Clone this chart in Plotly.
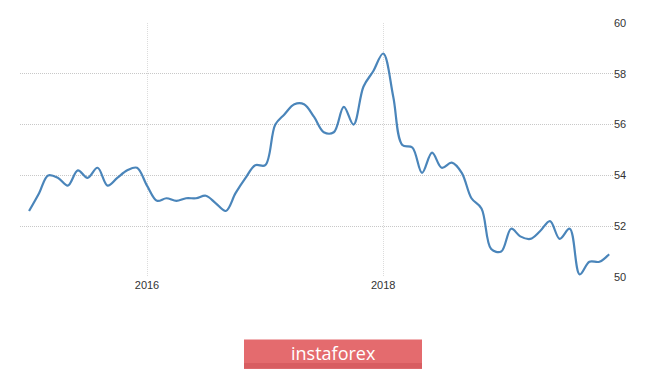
import plotly.graph_objects as go
import pandas as pd

months = pd.date_range("2015-01-01", periods=60, freq="MS")
pmi_2015 = [52.6, 53.3, 54.0, 53.9, 53.6, 54.2, 53.9, 54.3, 53.6, 53.9, 54.2, 54.3]
pmi_2016 = [53.6, 53.0, 53.1, 53.0, 53.1, 53.1, 53.2, 52.9, 52.6, 53.3, 53.9, 54.4]
pmi_2017 = [54.4, 56.0, 56.4, 56.8, 56.8, 56.3, 55.7, 55.7, 56.7, 56.0, 57.5, 58.1]
pmi_2018 = [58.8, 57.1, 55.2, 55.1, 54.1, 54.9, 54.3, 54.5, 54.1, 53.1, 52.7, 51.1]
pmi_2019 = [51.0, 51.9, 51.6, 51.5, 51.8, 52.2, 51.5, 51.9, 50.1, 50.6, 50.6, 50.9]
values = pmi_2015 + pmi_2016 + pmi_2017 + pmi_2018 + pmi_2019

x_ticks = ["2016-01-01", "2018-01-01"]
x_tick_labels = ["2016", "2018"]
y_ticks = [50, 52, 54, 56, 58, 60]
watermark = "instaforex"

# page offset caused by default body margin
OFF = 8
W, H = 665 - OFF, 372 - OFF
PL, PR, PT, PB = 20, 613, 17, 277  # plot area in page pixels
L, T = PL - OFF, PT - OFF
R = W - (PR - OFF)
B = H - (PB - OFF)
pw, ph = PR - PL, PB - PT

def px_x(p):
    return (p - PL) / pw

def px_y(p):
    return (PB - p) / ph

fig = go.Figure()
fig.add_trace(go.Scatter(
    x=months, y=values, mode="lines",
    line=dict(color="#4a85ba", width=2.2, shape="spline", smoothing=1.0),
    hoverinfo="x+y", showlegend=False,
))

fig.update_layout(
    width=W, height=H,
    margin=dict(l=L, r=R, t=T, b=B),
    paper_bgcolor="white", plot_bgcolor="white",
    font=dict(family="Liberation Sans", size=11, color="#333333"),
    xaxis=dict(
        range=["2014-12-04", "2019-12-13"],
        tickvals=x_ticks, ticktext=x_tick_labels,
        showgrid=True, gridcolor="#dcdcdc", griddash="1px,1px", gridwidth=1,
        zeroline=False, showline=False, ticks="",
        tickfont=dict(size=11, color="#333333"),
    ),
    yaxis=dict(
        range=[50, 60], side="right",
        tickvals=y_ticks,
        showgrid=True, gridcolor="#c8c8c8", griddash="1px,1px", gridwidth=1,
        zeroline=False, showline=False, ticks="",
        tickfont=dict(size=11, color="#333333"),
    ),
)

# watermark box
fig.add_shape(type="rect", xref="paper", yref="paper",
              x0=px_x(244), x1=px_x(422), y0=px_y(371), y1=px_y(341),
              fillcolor="#e46b6e", line=dict(width=0), layer="above")
fig.add_shape(type="rect", xref="paper", yref="paper",
              x0=px_x(244), x1=px_x(422), y0=px_y(371), y1=px_y(365),
              fillcolor="#d85d61", line=dict(width=0), layer="above")
fig.add_annotation(text=watermark, xref="paper", yref="paper",
                   x=px_x(333), y=px_y(355), showarrow=False,
                   xanchor="center", yanchor="middle",
                   font=dict(family="Open Sans", size=18, color="white"))

fig.write_html("out.html")
